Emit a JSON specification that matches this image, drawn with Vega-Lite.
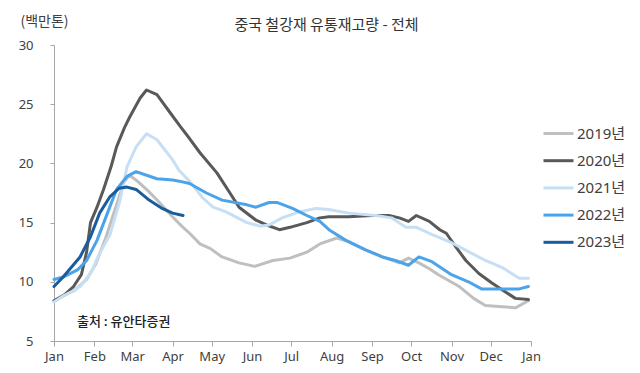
{
  "$schema": "https://vega.github.io/schema/vega-lite/v6.json",
  "width": 477,
  "height": 296,
  "autosize": {"type": "none"},
  "padding": {"left": 54, "top": 45, "right": 109, "bottom": 32},
  "background": "white",
  "title": {
    "text": "중국 철강재 유통재고량 - 전체",
    "font": "Noto Sans CJK KR",
    "fontSize": 15,
    "fontWeight": "normal",
    "color": "#333333",
    "anchor": "middle",
    "frame": "group",
    "dx": 34,
    "baseline": "alphabetic",
    "offset": -31
  },
  "config": {
    "view": {"stroke": null},
    "font": "Noto Sans",
    "axisX": {"labelOverlap": false, "labelSeparation": 0, "labelBound": false},
    "axisY": {"labelOverlap": false}
  },
  "datasets": {
    "series": [
      {"year": "2019년", "day": 0, "v": 8.4}, {"year": "2019년", "day": 7, "v": 8.8}, {"year": "2019년", "day": 16, "v": 9.3}, {"year": "2019년", "day": 25, "v": 10.2}, {"year": "2019년", "day": 32, "v": 11.5}, {"year": "2019년", "day": 40, "v": 13.8}, {"year": "2019년", "day": 48, "v": 16.5}, {"year": "2019년", "day": 54, "v": 18.5}, {"year": "2019년", "day": 58, "v": 19.0}, {"year": "2019년", "day": 64, "v": 18.5}, {"year": "2019년", "day": 72, "v": 17.7}, {"year": "2019년", "day": 80, "v": 16.8}, {"year": "2019년", "day": 90, "v": 15.6}, {"year": "2019년", "day": 98, "v": 14.7}, {"year": "2019년", "day": 104, "v": 14.1}, {"year": "2019년", "day": 112, "v": 13.2}, {"year": "2019년", "day": 120, "v": 12.8}, {"year": "2019년", "day": 129, "v": 12.1}, {"year": "2019년", "day": 142, "v": 11.6}, {"year": "2019년", "day": 154, "v": 11.3}, {"year": "2019년", "day": 168, "v": 11.8}, {"year": "2019년", "day": 181, "v": 12.0}, {"year": "2019년", "day": 194, "v": 12.5}, {"year": "2019년", "day": 204, "v": 13.2}, {"year": "2019년", "day": 217, "v": 13.7}, {"year": "2019년", "day": 226, "v": 13.4}, {"year": "2019년", "day": 239, "v": 12.7}, {"year": "2019년", "day": 252, "v": 12.1}, {"year": "2019년", "day": 265, "v": 11.6}, {"year": "2019년", "day": 272, "v": 12.0}, {"year": "2019년", "day": 280, "v": 11.6}, {"year": "2019년", "day": 288, "v": 11.1}, {"year": "2019년", "day": 295, "v": 10.6}, {"year": "2019년", "day": 311, "v": 9.6}, {"year": "2019년", "day": 322, "v": 8.6}, {"year": "2019년", "day": 331, "v": 8.0}, {"year": "2019년", "day": 344, "v": 7.9}, {"year": "2019년", "day": 354, "v": 7.8}, {"year": "2019년", "day": 364, "v": 8.4},

      {"year": "2020년", "day": 0, "v": 8.4}, {"year": "2020년", "day": 8, "v": 8.9}, {"year": "2020년", "day": 15, "v": 9.6}, {"year": "2020년", "day": 21, "v": 10.6}, {"year": "2020년", "day": 25, "v": 12.5}, {"year": "2020년", "day": 28, "v": 15.0}, {"year": "2020년", "day": 33, "v": 16.3}, {"year": "2020년", "day": 38, "v": 17.8}, {"year": "2020년", "day": 44, "v": 19.8}, {"year": "2020년", "day": 48, "v": 21.4}, {"year": "2020년", "day": 54, "v": 23.0}, {"year": "2020년", "day": 58, "v": 23.9}, {"year": "2020년", "day": 66, "v": 25.5}, {"year": "2020년", "day": 71, "v": 26.2}, {"year": "2020년", "day": 79, "v": 25.8}, {"year": "2020년", "day": 89, "v": 24.3}, {"year": "2020년", "day": 97, "v": 23.1}, {"year": "2020년", "day": 104, "v": 22.1}, {"year": "2020년", "day": 112, "v": 20.9}, {"year": "2020년", "day": 125, "v": 19.2}, {"year": "2020년", "day": 135, "v": 17.5}, {"year": "2020년", "day": 142, "v": 16.3}, {"year": "2020년", "day": 155, "v": 15.2}, {"year": "2020년", "day": 163, "v": 14.8}, {"year": "2020년", "day": 173, "v": 14.4}, {"year": "2020년", "day": 181, "v": 14.6}, {"year": "2020년", "day": 194, "v": 15.0}, {"year": "2020년", "day": 204, "v": 15.4}, {"year": "2020년", "day": 211, "v": 15.5}, {"year": "2020년", "day": 226, "v": 15.5}, {"year": "2020년", "day": 244, "v": 15.6}, {"year": "2020년", "day": 257, "v": 15.6}, {"year": "2020년", "day": 265, "v": 15.4}, {"year": "2020년", "day": 272, "v": 15.1}, {"year": "2020년", "day": 278, "v": 15.6}, {"year": "2020년", "day": 288, "v": 15.1}, {"year": "2020년", "day": 296, "v": 14.4}, {"year": "2020년", "day": 301, "v": 14.1}, {"year": "2020년", "day": 308, "v": 13.0}, {"year": "2020년", "day": 316, "v": 11.8}, {"year": "2020년", "day": 326, "v": 10.7}, {"year": "2020년", "day": 336, "v": 9.9}, {"year": "2020년", "day": 347, "v": 9.1}, {"year": "2020년", "day": 354, "v": 8.6}, {"year": "2020년", "day": 364, "v": 8.5},

      {"year": "2021년", "day": 0, "v": 8.3}, {"year": "2021년", "day": 7, "v": 8.8}, {"year": "2021년", "day": 14, "v": 9.2}, {"year": "2021년", "day": 20, "v": 9.6}, {"year": "2021년", "day": 28, "v": 10.7}, {"year": "2021년", "day": 35, "v": 12.4}, {"year": "2021년", "day": 43, "v": 14.0}, {"year": "2021년", "day": 50, "v": 16.6}, {"year": "2021년", "day": 56, "v": 19.7}, {"year": "2021년", "day": 63, "v": 21.4}, {"year": "2021년", "day": 71, "v": 22.5}, {"year": "2021년", "day": 79, "v": 22.0}, {"year": "2021년", "day": 91, "v": 20.3}, {"year": "2021년", "day": 96, "v": 19.4}, {"year": "2021년", "day": 104, "v": 18.5}, {"year": "2021년", "day": 114, "v": 17.1}, {"year": "2021년", "day": 122, "v": 16.3}, {"year": "2021년", "day": 132, "v": 15.9}, {"year": "2021년", "day": 148, "v": 15.0}, {"year": "2021년", "day": 158, "v": 14.7}, {"year": "2021년", "day": 165, "v": 14.8}, {"year": "2021년", "day": 175, "v": 15.4}, {"year": "2021년", "day": 188, "v": 15.9}, {"year": "2021년", "day": 201, "v": 16.2}, {"year": "2021년", "day": 211, "v": 16.1}, {"year": "2021년", "day": 226, "v": 15.8}, {"year": "2021년", "day": 247, "v": 15.6}, {"year": "2021년", "day": 259, "v": 15.4}, {"year": "2021년", "day": 270, "v": 14.6}, {"year": "2021년", "day": 278, "v": 14.6}, {"year": "2021년", "day": 288, "v": 14.1}, {"year": "2021년", "day": 305, "v": 13.3}, {"year": "2021년", "day": 331, "v": 11.8}, {"year": "2021년", "day": 344, "v": 11.2}, {"year": "2021년", "day": 357, "v": 10.3}, {"year": "2021년", "day": 364, "v": 10.3},

      {"year": "2022년", "day": 0, "v": 10.2}, {"year": "2022년", "day": 7, "v": 10.4}, {"year": "2022년", "day": 18, "v": 11.0}, {"year": "2022년", "day": 25, "v": 11.8}, {"year": "2022년", "day": 33, "v": 13.5}, {"year": "2022년", "day": 41, "v": 15.8}, {"year": "2022년", "day": 48, "v": 17.8}, {"year": "2022년", "day": 56, "v": 18.9}, {"year": "2022년", "day": 63, "v": 19.3}, {"year": "2022년", "day": 71, "v": 19.0}, {"year": "2022년", "day": 79, "v": 18.7}, {"year": "2022년", "day": 91, "v": 18.6}, {"year": "2022년", "day": 96, "v": 18.5}, {"year": "2022년", "day": 104, "v": 18.3}, {"year": "2022년", "day": 117, "v": 17.5}, {"year": "2022년", "day": 129, "v": 16.9}, {"year": "2022년", "day": 148, "v": 16.5}, {"year": "2022년", "day": 155, "v": 16.3}, {"year": "2022년", "day": 165, "v": 16.7}, {"year": "2022년", "day": 171, "v": 16.7}, {"year": "2022년", "day": 183, "v": 16.2}, {"year": "2022년", "day": 194, "v": 15.6}, {"year": "2022년", "day": 204, "v": 15.1}, {"year": "2022년", "day": 211, "v": 14.4}, {"year": "2022년", "day": 224, "v": 13.5}, {"year": "2022년", "day": 239, "v": 12.7}, {"year": "2022년", "day": 252, "v": 12.1}, {"year": "2022년", "day": 262, "v": 11.8}, {"year": "2022년", "day": 272, "v": 11.4}, {"year": "2022년", "day": 280, "v": 12.1}, {"year": "2022년", "day": 290, "v": 11.7}, {"year": "2022년", "day": 305, "v": 10.6}, {"year": "2022년", "day": 318, "v": 10.0}, {"year": "2022년", "day": 328, "v": 9.4}, {"year": "2022년", "day": 344, "v": 9.4}, {"year": "2022년", "day": 357, "v": 9.4}, {"year": "2022년", "day": 364, "v": 9.6},

      {"year": "2023년", "day": 0, "v": 9.6}, {"year": "2023년", "day": 7, "v": 10.4}, {"year": "2023년", "day": 20, "v": 12.1}, {"year": "2023년", "day": 28, "v": 13.8}, {"year": "2023년", "day": 35, "v": 15.8}, {"year": "2023년", "day": 43, "v": 17.2}, {"year": "2023년", "day": 50, "v": 17.9}, {"year": "2023년", "day": 56, "v": 18.0}, {"year": "2023년", "day": 63, "v": 17.8}, {"year": "2023년", "day": 73, "v": 16.9}, {"year": "2023년", "day": 83, "v": 16.2}, {"year": "2023년", "day": 91, "v": 15.8}, {"year": "2023년", "day": 99, "v": 15.6}
    ],
    "note": [
      {"label": "출처 : 유안타증권", "day": 17.6, "v": 6.6}
    ]
  },
  "encoding": {
    "x": {
      "field": "day",
      "type": "quantitative",
      "scale": {"domain": [0, 366], "nice": false, "zero": false},
      "axis": {
        "title": null,
        "values": [0, 31, 60, 91, 121, 152, 182, 213, 244, 274, 305, 335, 366],
        "labelExpr": "datum.value < 15 ? 'Jan' : datum.value < 45 ? 'Feb' : datum.value < 75 ? 'Mar' : datum.value < 105 ? 'Apr' : datum.value < 135 ? 'May' : datum.value < 165 ? 'Jun' : datum.value < 195 ? 'Jul' : datum.value < 225 ? 'Aug' : datum.value < 255 ? 'Sep' : datum.value < 290 ? 'Oct' : datum.value < 320 ? 'Nov' : datum.value < 350 ? 'Dec' : 'Jan'",
        "grid": false,
        "domainColor": "#a6a6a6",
        "tickColor": "#a6a6a6",
        "tickSize": 5,
        "labelPadding": 4,
        "labelFont": "Noto Sans",
        "labelFontSize": 13,
        "labelColor": "#404040",
        "labelFlush": false,
        "labelOverlap": false,
        "labelSeparation": 0,
        "labelBound": false
      }
    },
    "y": {
      "field": "v",
      "type": "quantitative",
      "scale": {"domain": [5, 30], "nice": false, "zero": false},
      "axis": {
        "values": [5, 10, 15, 20, 25, 30],
        "title": "(백만톤)",
        "titleAngle": 0,
        "titleAlign": "left",
        "titleBaseline": "middle",
        "titleX": -34,
        "titleY": -24,
        "titleFont": "Noto Sans CJK KR",
        "titleFontSize": 14,
        "titleFontWeight": "normal",
        "titleColor": "#404040",
        "grid": false,
        "domainColor": "#a6a6a6",
        "tickColor": "#a6a6a6",
        "tickSize": 4,
        "labelPadding": 17,
        "labelFont": "Noto Sans",
        "labelFontSize": 13,
        "labelColor": "#404040"
      }
    }
  },
  "layer": [
    {
      "data": {"name": "series"},
      "mark": {"type": "line", "strokeWidth": 3, "strokeJoin": "round", "strokeCap": "round"},
      "encoding": {
        "color": {
          "field": "year",
          "type": "nominal",
          "scale": {
            "domain": ["2019년", "2020년", "2021년", "2022년", "2023년"],
            "range": ["#bfbfbf", "#595959", "#c6dff5", "#4ba3ea", "#1a5c9c"]
          },
          "legend": {
            "title": null,
            "orient": "none",
            "legendX": 488,
            "legendY": 72,
            "symbolType": "stroke",
            "symbolSize": 900,
            "symbolStrokeWidth": 3,
            "rowPadding": 2.2,
            "labelOffset": 2,
            "labelFont": "Noto Sans, Noto Sans CJK KR",
            "labelFontSize": 15,
            "labelColor": "#404040"
          }
        }
      }
    },
    {
      "data": {"name": "note"},
      "mark": {"type": "text", "align": "left", "baseline": "middle", "font": "Noto Sans CJK KR", "fontSize": 13, "fontWeight": 500, "color": "#222222"},
      "encoding": {
        "text": {"field": "label"}
      }
    }
  ]
}
